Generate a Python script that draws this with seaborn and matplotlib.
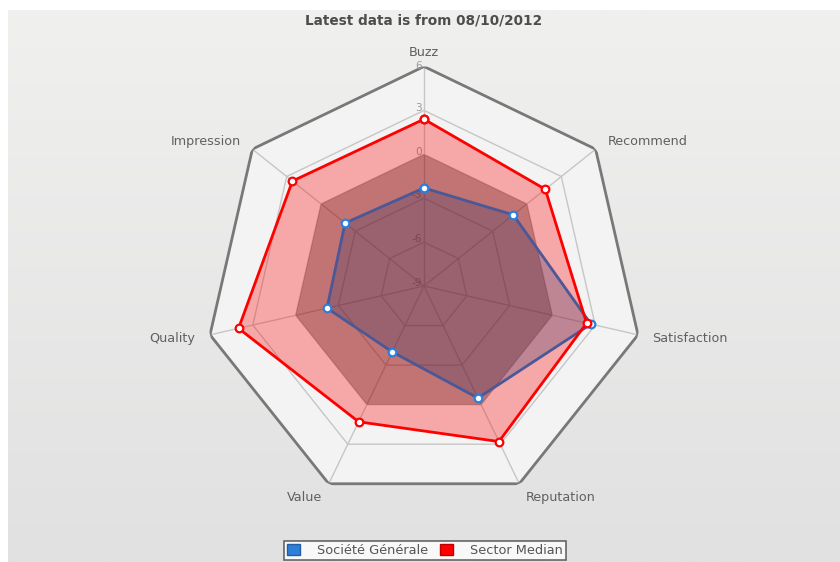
import numpy as np
import pandas as pd
import matplotlib
matplotlib.use("Agg")
import matplotlib.pyplot as plt
from matplotlib.colors import LinearSegmentedColormap
from matplotlib.patches import Patch
from matplotlib.transforms import offset_copy
import seaborn as sns

# Data
categories = ['Buzz', 'Recommend', 'Satisfaction', 'Reputation', 'Value', 'Quality', 'Impression']
societe_generale = [-2.3, -1.2, 2.7, -0.5, -4.0, -2.2, -2.1]
sector_median = [2.4, 1.6, 2.4, 2.8, 1.3, 4.0, 2.5]
radial_ticks = [6, 3, 0, -3, -6, -9]
title = 'Latest data is from 08/10/2012'

sns.set_theme(style='white')
plt.rcParams['font.family'] = ['DejaVu Sans']

r_min, r_max = min(radial_ticks), max(radial_ticks)
n = len(categories)
theta = np.linspace(0, 2 * np.pi, n, endpoint=False)
theta_closed = np.append(theta, theta[0] + 2 * np.pi)

fig = plt.figure(figsize=(8.4, 5.62), dpi=100)
fig.patch.set_facecolor('white')

# page background gradient
bg = fig.add_axes([8 / 840, 0, 832 / 840, 552 / 562])
cmap_bg = LinearSegmentedColormap.from_list('bg', ['#f0f0ef', '#e1e1e1'])
bg.imshow(np.linspace(0, 1, 256)[:, None], cmap=cmap_bg, aspect='auto')
bg.axis('off')

# polar axes: centre (424, 286) px, radius 219.5 px
R = 219.5
cx, cy = 424, 286
ax = fig.add_axes([(cx - R) / 840, (562 - cy - R) / 562, 2 * R / 840, 2 * R / 562],
                  projection='polar')
ax.patch.set_alpha(0)
ax.set_theta_zero_location('N')
ax.set_theta_direction(-1)
ax.set_ylim(r_min, r_max)
ax.grid(False)
ax.set_xticks([])
ax.set_yticks([])
ax.spines['polar'].set_visible(False)

# plot background
ax.fill(theta_closed, [r_max] * (n + 1), color='#f3f3f3', zorder=0.5, lw=0)

# polygon grid
for t in radial_ticks[1:-1]:
    ax.plot(theta_closed, [t] * (n + 1), color='#c6c6c6', lw=1, zorder=1)
for a in theta:
    ax.plot([a, a], [r_min, r_max], color='#c6c6c6', lw=1, zorder=1)
ax.plot(theta_closed, [r_max] * (n + 1), color='#787878', lw=2, zorder=1.2)

# radial tick labels along Buzz axis
for t in radial_ticks:
    dy = 0.5 if t == r_max else 2
    tick_tr = offset_copy(ax.transData, fig=fig, x=-1.5, y=dy, units='points')
    ax.text(0, t, str(t), transform=tick_tr, ha='right', va='center',
            fontsize=7.6, color='#9a9a9a', zorder=1.5)

# darker band from the centre to 0
ax.fill(theta_closed, [0] * (n + 1), color='black', alpha=0.31, zorder=1.8, lw=0)

# category labels
label_r = r_max + 15 / (R / (r_max - r_min))
for a, name in zip(theta, categories):
    s = np.sin(a)
    ha = 'center' if abs(s) < 0.1 else ('left' if s > 0 else 'right')
    lab_tr = offset_copy(ax.transData, fig=fig, x=0, y=-0.6 * (np.cos(a) + 1) + 0.5 * (abs(s) < 0.1),
                         units='points')
    ax.text(a, label_r, name, transform=lab_tr, ha=ha, va='center',
            fontsize=9.2, color='#606060')

# series
series = [
    ('Société Générale', societe_generale, '#4b5897', '#3e3a69', 0.30, '#2f7ed8'),
    ('Sector Median', sector_median, '#ff0000', '#ff0000', 0.31, '#ff0000'),
]
for name, vals, line_c, fill_c, alpha, mark_c in series[::-1]:
    closed = list(vals) + [vals[0]]
    ax.fill(theta_closed, closed, color=fill_c, alpha=alpha, lw=0, zorder=2)
for name, vals, line_c, fill_c, alpha, mark_c in series:
    closed = list(vals) + [vals[0]]
    df = pd.DataFrame({'theta': theta_closed, 'value': closed})
    sns.lineplot(data=df, x='theta', y='value', ax=ax, sort=False, estimator=None,
                 color=line_c, lw=2, marker='o', markersize=5.5,
                 markerfacecolor='white', markeredgecolor=mark_c,
                 markeredgewidth=1.6, legend=False, zorder=3)
ax.set_xlabel('')
ax.set_ylabel('')
ax.set_ylim(r_min, r_max)

# title
fig.text(cx / 840, 1 - 20 / 562, title, ha='center', va='center',
         fontsize=9.8, fontweight='bold', color='#4d4d4d')

# legend
handles = [Patch(facecolor='#2f7ed8', edgecolor='#1f5fa8', label='Société Générale'),
           Patch(facecolor='#ff0000', edgecolor='#c00000', label='Sector Median')]
leg = fig.legend(handles=handles, loc='center', bbox_to_anchor=(425 / 840, 1 - 550.5 / 562),
                 ncol=2, fontsize=9.3, frameon=True, fancybox=False, shadow=False,
                 handlelength=1.0, handleheight=1.0, handletextpad=1.3,
                 columnspacing=0.9, borderpad=0.25, labelcolor='#555555')
leg.get_frame().set_edgecolor('#444444')
leg.get_frame().set_linewidth(1.2)
leg.get_frame().set_facecolor('white')

fig.savefig('out.png', dpi=100)
